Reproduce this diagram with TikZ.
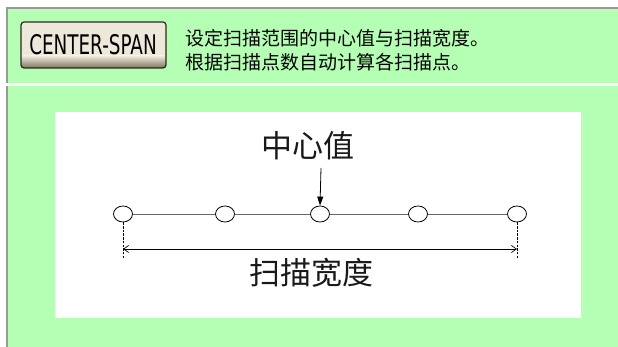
\documentclass[tikz,border=0pt]{standalone}
\usepackage{fontspec}
\newfontfamily\cjk{Noto Sans CJK SC}
\newfontfamily\btnfont{DejaVu Sans}
\usetikzlibrary{arrows.meta,shapes.geometric}
\definecolor{panelgreen}{RGB}{180,255,180}
\definecolor{bordergray}{RGB}{153,153,153}
\definecolor{btnface}{RGB}{238,232,218}
\definecolor{btnbot}{RGB}{125,115,95}
\definecolor{btnedge}{RGB}{45,40,30}
\tikzset{
  dot/.style={draw=black, fill=white, ellipse, minimum width=19pt, minimum height=16pt, inner sep=0pt, line width=0.8pt},
  cjktext/.style={font=\cjk\fontsize{19}{24}\selectfont, anchor=west, inner sep=0pt, text=black},
  bigcjk/.style={font=\cjk\fontsize{31}{34}\selectfont, inner sep=0pt, text=black!90},
  linkline/.style={draw=black!60, line width=0.9pt},
  dashv/.style={draw=black, dashed, dash pattern=on 2.5pt off 1.2pt, line width=0.8pt},
}
\begin{document}
\begin{tikzpicture}[x=1pt,y=-1pt]
\useasboundingbox (0,0) rectangle (618,347);
\fill[white] (0,0) rectangle (618,347);
% top panel
\fill[panelgreen] (6,7) rectangle (618,83);
\fill[bordergray] (6,7) rectangle (618,9);
\fill[bordergray] (6,7) rectangle (8,83);
% bottom panel
\fill[panelgreen] (6,86) rectangle (618,347);
\fill[bordergray] (6,86) rectangle (8,347);
% white canvas
\fill[white] (55,112) rectangle (581,318);
% button
\begin{scope}
\clip[rounded corners=3pt] (21,22) rectangle (166,68);
\fill[btnface] (21,22) rectangle (166,68);
\shade[top color=btnface, bottom color=btnbot] (21,56) rectangle (166,68);
\end{scope}
\draw[btnedge, line width=1.2pt, rounded corners=3pt] (21,22) rectangle (166,68);
\node[font=\btnfont\fontsize{27}{29}\selectfont, inner sep=0pt, text=black] (btn) at (93,44.5) {\scalebox{0.68}[1]{CENTER-SPAN}};
% description
\node[cjktext] (l1) at (185,38) {设定扫描范围的中心值与扫描宽度。};
\node[cjktext] (l2) at (185,62) {根据扫描点数自动计算各扫描点。};
% diagram
\node[dot] (c1) at (123,214) {};
\node[dot] (c2) at (225,214) {};
\node[dot] (c3) at (320,214) {};
\node[dot] (c4) at (418,214) {};
\node[dot] (c5) at (517,214) {};
\draw[linkline] (c1) -- (c2);
\draw[linkline] (c2) -- (c3);
\draw[linkline] (c3) -- (c4);
\draw[linkline] (c4) -- (c5);
\node[bigcjk] (center) at (308,146) {中心值};
\coordinate (atop) at (321,168);
\draw[line width=0.8pt, -{Triangle[length=9pt,width=6pt]}] (atop) -- (c3.north);
\coordinate (d1) at (123,259);
\coordinate (d5) at (517,259);
\draw[dashv] (c1.south) -- (d1);
\draw[dashv] (c5.south) -- (d5);
\coordinate (s1) at (123,249);
\coordinate (s5) at (517,249);
\draw[line width=0.7pt, {Straight Barb[length=5pt,width=7pt]}-{Straight Barb[length=5pt,width=7pt]}] (s1) -- (s5);
\node[bigcjk] (span) at (311,273) {扫描宽度};
\end{tikzpicture}
\end{document}
